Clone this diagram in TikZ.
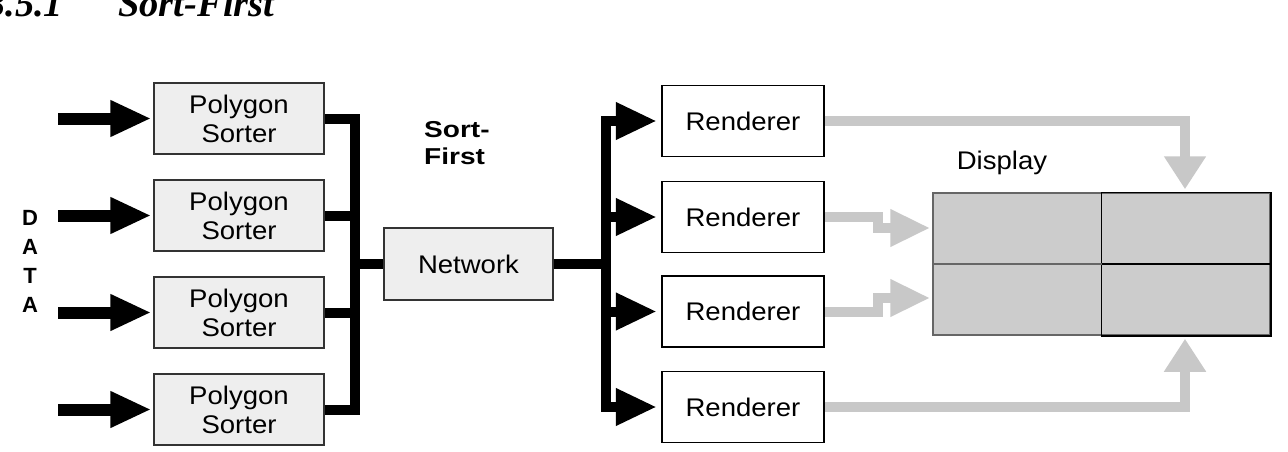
\documentclass[tikz,border=0pt]{standalone}
\usepackage{fontspec}
\setmainfont{Liberation Sans}[FakeStretch=1.08]
\newfontfamily\titlefont{Liberation Serif}
\newfontfamily\widebold{Liberation Sans}[FakeStretch=1.22]
\newfontfamily\databold{Liberation Sans}
\usetikzlibrary{arrows.meta}
\definecolor{boxfill}{HTML}{EEEEEE}
\definecolor{dispfill}{HTML}{CCCCCC}
\definecolor{garrow}{HTML}{C8C8C8}
\definecolor{boxline}{HTML}{333333}
\definecolor{dispedge}{HTML}{666666}
\begin{document}
\begin{tikzpicture}[x=1pt,y=-1pt,
  lbl/.style={font=\fontsize{25.5}{29}\selectfont, align=center},
  sorter/.style={lbl, draw=boxline, line width=1.5pt, fill=boxfill, minimum width=170pt, minimum height=71pt, inner sep=0pt},
  rend/.style={lbl, draw=black, line width=1.5pt, fill=white, minimum width=162pt, minimum height=71pt, inner sep=0pt},
  inarrow/.style={line width=12pt, -{Triangle[length=41pt,width=34pt]}, shorten >=2pt},
  bus/.style={line width=10pt, line join=miter, line cap=butt},
  outarrow/.style={bus, -{Triangle[length=41pt,width=35pt]}, shorten >=4.5pt},
  grayv/.style={draw=garrow, line width=10pt, line join=miter, -{Triangle[length=33pt,width=40pt]}, shorten >=3pt},
  grayh/.style={draw=garrow, line width=10pt, line join=miter, -{Triangle[length=40pt,width=35pt]}, shorten >=2pt},
]
\useasboundingbox (0,0) rectangle (1288,452);
\clip (0,0) rectangle (1288,452);

% title
\node[anchor=base west, inner sep=0pt, font=\titlefont\bfseries\itshape\fontsize{38.5}{40}\selectfont] (title) at (118,17) {\llap{3.5.1\hspace{55pt}}Sort-First};

% DATA label
\node[font=\databold\bfseries\fontsize{22}{29}\selectfont, align=center, inner sep=0pt] (data) at (30,261) {D\\A\\T\\A};

% polygon sorters
\node[sorter] (p1) at (239,118.5) {Polygon\\Sorter};
\node[sorter] (p2) at (239,215.5) {Polygon\\Sorter};
\node[sorter] (p3) at (239,312.5) {Polygon\\Sorter};
\node[sorter] (p4) at (239,409.5) {Polygon\\Sorter};

% network
\node[sorter, minimum width=169pt, minimum height=72pt] (net) at (468.5,264) {Network};

% renderers
\node[rend] (r1) at (743,121) {Renderer};
\node[rend] (r2) at (743,217) {Renderer};
\node[rend] (r3) at (743,311.5) {Renderer};
\node[rend] (r4) at (743,407) {Renderer};

% display
\node[draw=dispedge, line width=1.5pt, fill=dispfill, minimum width=337pt, minimum height=142pt, inner sep=0pt] (disp) at (1101.5,264) {};
\draw[line width=1.5pt] (disp.north) rectangle (disp.south east);
\draw[line width=1.5pt, dispedge] (disp.west) -- (disp.center);
\draw[line width=1.5pt] (disp.center) -- (disp.east);
\node[lbl, anchor=base, inner sep=0pt] (displbl) at (1002,169) {Display};

% Sort-First label
\node[font=\widebold\bfseries\fontsize{23}{27}\selectfont, align=left, anchor=north west, inner sep=0pt] (sflbl) at (424,121) {Sort-\\First};

% input arrows
\coordinate (in1) at (58,118.5);
\coordinate (in2) at (58,215.5);
\coordinate (in3) at (58,312.5);
\coordinate (in4) at (58,409.5);
\draw[inarrow] (in1) -- (p1.west);
\draw[inarrow] (in2) -- (p2.west);
\draw[inarrow] (in3) -- (p3.west);
\draw[inarrow] (in4) -- (p4.west);

% left bus
\coordinate (lb1) at (355,118.5);
\coordinate (lb4) at (355,409.5);
\coordinate (lbm) at (355,264);
\draw[bus] (p1.east) -- (lb1) -- (lb4) -- (p4.east);
\draw[bus] (p2.east) -- (p2.east -| lb1);
\draw[bus] (p3.east) -- (p3.east -| lb1);
\draw[bus] (lbm) -- (net.west);

% right bus
\coordinate (rb1) at (606,121);
\coordinate (rb4) at (606,407);
\coordinate (rbm) at (606,264);
\draw[bus] (net.east) -- (rbm);
\draw[outarrow] (rbm) -- (rb1) -- (r1.west);
\draw[outarrow] (rbm) -- (rb4) -- (r4.west);
\draw[outarrow] (r2.west -| rb1) -- (r2.west);
\draw[outarrow] (r3.west -| rb1) -- (r3.west);

% gray arrows to display
\coordinate (g1) at (1185,121);
\coordinate (g4) at (1185,407);
\coordinate (g2a) at (878,217);
\coordinate (g2b) at (878,228);
\coordinate (g3a) at (878,311.5);
\coordinate (g3b) at (878,298);
\draw[grayv] (r1.east) -- (g1) -- (g1 |- disp.north);
\draw[grayv] (r4.east) -- (g4) -- (g4 |- disp.south);
\draw[grayh] (r2.east) -- (g2a) -- (g2b) -- (g2b -| disp.west);
\draw[grayh] (r3.east) -- (g3a) -- (g3b) -- (g3b -| disp.west);
\end{tikzpicture}
\end{document}
